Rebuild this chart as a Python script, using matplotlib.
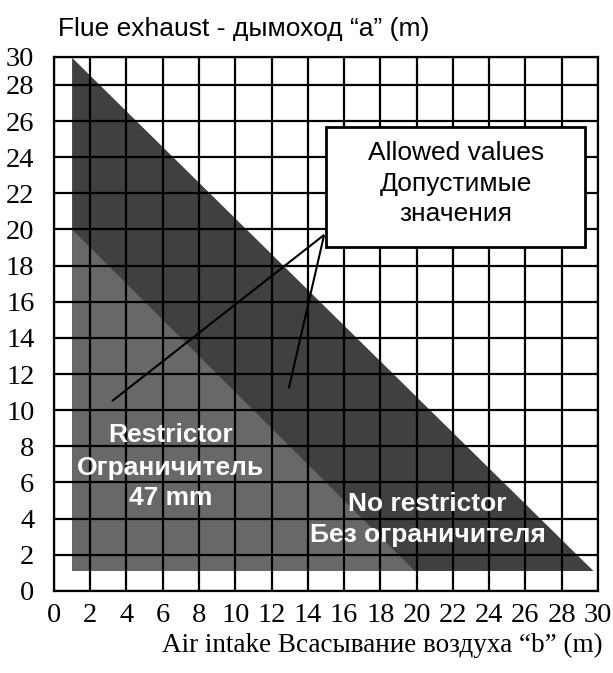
import matplotlib.pyplot as plt
from matplotlib.patches import Polygon, Rectangle

# Axis ticks (metres)
x_ticks = list(range(0, 31, 2))
y_ticks = list(range(0, 29, 2))
y_top = 29.55

# Allowed length zones, vertices as (air intake b, flue exhaust a)
no_restrictor_zone = [(1, 1.1), (1, 29.5), (29.75, 1.1)]
restrictor_zone = [(1, 1.1), (1, 20), (19.9, 1.1)]

# Callout box and its two pointer lines
box_xy = (15.0, 19.05)
box_w, box_h = 14.3, 6.6
pointer_start = (14.9, 19.7)
pointer_ends = [(3.2, 10.5), (12.95, 11.2)]

serif = "Liberation Serif"
sans = "Liberation Sans"

fig = plt.figure(figsize=(6.13, 6.73), dpi=100)
ax = fig.add_axes([0.088, 0.122, 0.8875, 0.7935])

ax.add_patch(Polygon(no_restrictor_zone, closed=True, facecolor="#404040",
                     edgecolor="none", zorder=1))
ax.add_patch(Polygon(restrictor_zone, closed=True, facecolor="#686868",
                     edgecolor="none", zorder=2))

ax.set_xlim(0, 30)
ax.set_ylim(0, y_top)
ax.set_xticks(x_ticks, labels=[str(v) for v in x_ticks])
ax.set_yticks(y_ticks + [y_top], labels=[str(v) for v in y_ticks] + ["30"])
ax.grid(True, color="black", linewidth=1.6, zorder=3)
ax.set_axisbelow(False)
ax.tick_params(length=0, labelsize=20.5, pad=9)
ax.tick_params(axis="y", pad=14)
for lab in ax.get_xticklabels() + ax.get_yticklabels():
    lab.set_fontfamily(serif)
for sp in ax.spines.values():
    sp.set_linewidth(1.6)
    sp.set_zorder(4)

# Zone labels
zone_font = dict(color="white", fontsize=19, fontweight="bold", family=sans,
                 ha="center", va="center", zorder=5)
ax.text(6.45, 8.6, "Restrictor", **zone_font)
ax.text(6.45, 6.8, "Ограничитель", **zone_font)
ax.text(6.45, 5.15, "47 mm", **zone_font)
ax.text(20.6, 4.8, "No restrictor", **zone_font)
ax.text(20.6, 3.1, "Без ограничителя", **zone_font)

# Callout
ax.add_patch(Rectangle(box_xy, box_w, box_h, facecolor="white",
                       edgecolor="black", linewidth=2, zorder=6))
bx = box_xy[0] + box_w / 2
box_font = dict(fontsize=19, family=sans, ha="center", va="center", zorder=7)
ax.text(bx, 24.25, "Allowed values", **box_font)
ax.text(bx, 22.5, "Допустимые", **box_font)
ax.text(bx, 20.85, "значения", **box_font)
for ex, ey in pointer_ends:
    ax.plot([pointer_start[0], ex], [pointer_start[1], ey], color="black",
            linewidth=1.5, zorder=6, solid_capstyle="butt")

ax.set_title("Flue exhaust - дымоход “a” (m)", loc="left", fontsize=19,
             family=sans, pad=15, x=0.008)
ax.set_xlabel("Air intake Всасывание воздуха “b” (m)", ha="right", x=1.008,
              fontsize=19.5, family=serif, labelpad=3)

fig.savefig("out.png", dpi=100)
